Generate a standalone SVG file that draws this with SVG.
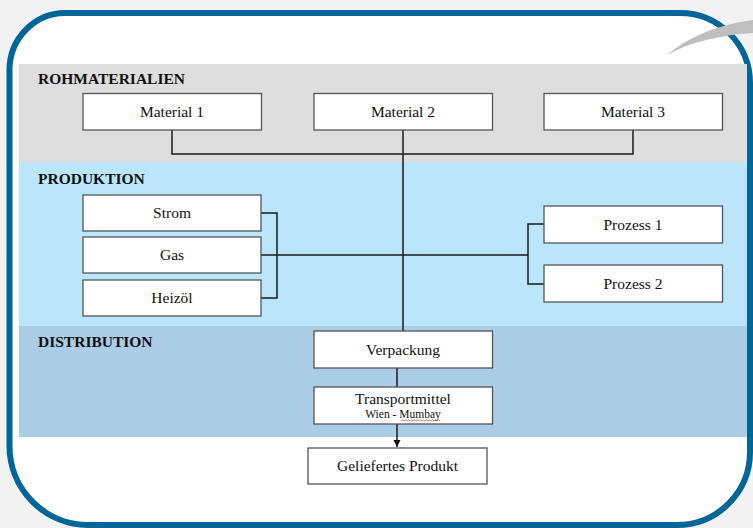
<svg xmlns="http://www.w3.org/2000/svg" width="753" height="528" viewBox="0 0 753 528">
  <style>
    .box { fill: #ffffff; stroke: #555555; stroke-width: 1.3; }
    .lbl { font-family: "Liberation Serif", "Times New Roman", serif; font-size: 15.5px; fill: #111111; text-anchor: middle; }
    .sub { font-family: "Liberation Serif", "Times New Roman", serif; font-size: 11.5px; fill: #111111; text-anchor: middle; }
    .hdr { font-family: "Liberation Serif", "Times New Roman", serif; font-size: 15.5px; font-weight: bold; fill: #111111; }
    .wire { fill: none; stroke: #1a1a1a; stroke-width: 1.5; }
  </style>
  <defs>
    <marker id="arrow" markerWidth="8" markerHeight="8" refX="7" refY="4" orient="auto" markerUnits="userSpaceOnUse">
      <path d="M0,0.5 L7,4 L0,7.5 Z" fill="#111111"/>
    </marker>
  </defs>

  <!-- page background -->
  <rect x="0" y="0" width="753" height="528" fill="#f2f2f2"/>

  <!-- rounded frame -->
  <path d="M 65,13 H 680 A 70 70 0 0 1 750,83 V 452 A 73 73 0 0 1 677,525 H 88 A 79 79 0 0 1 9.5,446 V 70 A 56 57 0 0 1 65,13 Z"
        fill="#ffffff" stroke="#006598" stroke-width="6"/>

  <!-- decorative swoosh -->
  <path d="M 667,55 C 685,40 710,26 753,20 L 753,33 C 720,35 690,42 667,55 Z" fill="#bfbfbf"/>

  <!-- bands -->
  <rect x="19" y="64" width="728" height="98" fill="#dedede"/>
  <rect x="19" y="162" width="728" height="164" fill="#bbe5fb"/>
  <rect x="19" y="326" width="728" height="111" fill="#abcde6"/>

  <text class="hdr" x="38" y="84">ROHMATERIALIEN</text>
  <text class="hdr" x="38" y="184">PRODUKTION</text>
  <text class="hdr" x="38" y="347">DISTRIBUTION</text>

  <!-- connectors -->
  <g id="connectors">
    <polyline class="wire" points="172,130 172,154 633,154 633,130"/>
    <line class="wire" x1="403" y1="130" x2="403" y2="331"/>
    <polyline class="wire" points="261,213 277,213 277,298 261,298"/>
    <line class="wire" x1="261" y1="255" x2="528" y2="255"/>
    <polyline class="wire" points="544,224 528,224 528,284 544,284"/>
    <line class="wire" x1="397" y1="368" x2="397" y2="387"/>
    <line class="wire" x1="397" y1="424" x2="397" y2="447" marker-end="url(#arrow)"/>
  </g>

  <!-- raw materials -->
  <g id="material1">
    <rect class="box" x="83" y="93.5" width="178.5" height="36.5"/>
    <text class="lbl" x="172" y="117">Material 1</text>
  </g>
  <g id="material2">
    <rect class="box" x="314" y="93.5" width="178.5" height="36.5"/>
    <text class="lbl" x="403" y="117">Material 2</text>
  </g>
  <g id="material3">
    <rect class="box" x="544" y="93.5" width="178.5" height="36.5"/>
    <text class="lbl" x="633" y="117">Material 3</text>
  </g>

  <!-- production -->
  <g id="strom">
    <rect class="box" x="83" y="195" width="178" height="36"/>
    <text class="lbl" x="172" y="218">Strom</text>
  </g>
  <g id="gas">
    <rect class="box" x="83" y="237" width="178" height="36"/>
    <text class="lbl" x="172" y="260">Gas</text>
  </g>
  <g id="heizoel">
    <rect class="box" x="83" y="280" width="178" height="36"/>
    <text class="lbl" x="172" y="303">Heizöl</text>
  </g>
  <g id="prozess1">
    <rect class="box" x="544" y="206" width="178.5" height="37"/>
    <text class="lbl" x="633" y="230">Prozess 1</text>
  </g>
  <g id="prozess2">
    <rect class="box" x="544" y="265" width="178.5" height="37"/>
    <text class="lbl" x="633" y="289">Prozess 2</text>
  </g>

  <!-- distribution -->
  <g id="verpackung">
    <rect class="box" x="314" y="331" width="178.5" height="37"/>
    <text class="lbl" x="403" y="355">Verpackung</text>
  </g>
  <g id="transportmittel">
    <rect class="box" x="314" y="387" width="178.5" height="37"/>
    <text class="lbl" x="403" y="404">Transportmittel</text>
    <text class="sub" x="403" y="418">Wien - Mumbay</text>
    <path d="M401,421 l1.5,-1.2 l1.5,1.2 l1.5,-1.2 l1.5,1.2 l1.5,-1.2 l1.5,1.2 l1.5,-1.2 l1.5,1.2 l1.5,-1.2 l1.5,1.2 l1.5,-1.2 l1.5,1.2 l1.5,-1.2 l1.5,1.2 l1.5,-1.2 l1.5,1.2 l1.5,-1.2 l1.5,1.2 l1.5,-1.2 l1.5,1.2 l1.5,-1.2 l1.5,1.2 l1.5,-1.2 l1.5,1.2 l1.5,-1.2 l1.5,1.2"
          fill="none" stroke="#d84a4a" stroke-width="0.7"/>
  </g>
  <g id="geliefertes-produkt">
    <rect class="box" x="308" y="448" width="179" height="36"/>
    <text class="lbl" x="397.5" y="471">Geliefertes Produkt</text>
  </g>
</svg>
